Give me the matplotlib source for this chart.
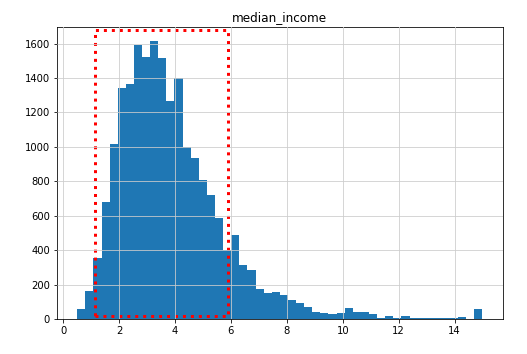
import numpy as np
import matplotlib
matplotlib.use("Agg")
import matplotlib.pyplot as plt
from matplotlib.patches import Rectangle

# histogram of median_income, 50 bins, counts
income_min = 0.4999
income_max = 15.0001
counts = [56, 165, 353, 680, 1014, 1342, 1367, 1594, 1522, 1616,
          1515, 1264, 1400, 998, 938, 810, 718, 586, 402, 485,
          315, 285, 175, 150, 159, 140, 111, 91, 68, 43,
          33, 27, 33, 64, 43, 43, 31, 4, 17, 6,
          17, 8, 8, 8, 8, 8, 4, 10, 2, 56]

# highlighted region (dotted red box)
box_x = [1.14, 5.9]
box_y = [17, 1677]

edges = np.linspace(income_min, income_max, len(counts) + 1)
centers = (edges[:-1] + edges[1:]) / 2

fig = plt.figure(figsize=(527 / 72, 354 / 72), dpi=72)
ax = fig.add_axes([0.108, 0.099, 0.846, 0.825])
ax.hist(centers, bins=edges, weights=counts, color='#1f77b4')
ax.set_title('median_income')
ax.grid(True, color='#cccccc', linewidth=1.0)
ax.set_axisbelow(False)
for line in ax.get_xgridlines() + ax.get_ygridlines():
    line.set_alpha(0.8)

ax.add_patch(Rectangle((box_x[0], box_y[0]), box_x[1] - box_x[0], box_y[1] - box_y[0],
                       fill=False, edgecolor='red', linewidth=3, linestyle=':'))

ax.set_xticks([0, 2, 4, 6, 8, 10, 12, 14])
ax.set_yticks(range(0, 1601, 200))

plt.savefig('out.png', dpi=72)
